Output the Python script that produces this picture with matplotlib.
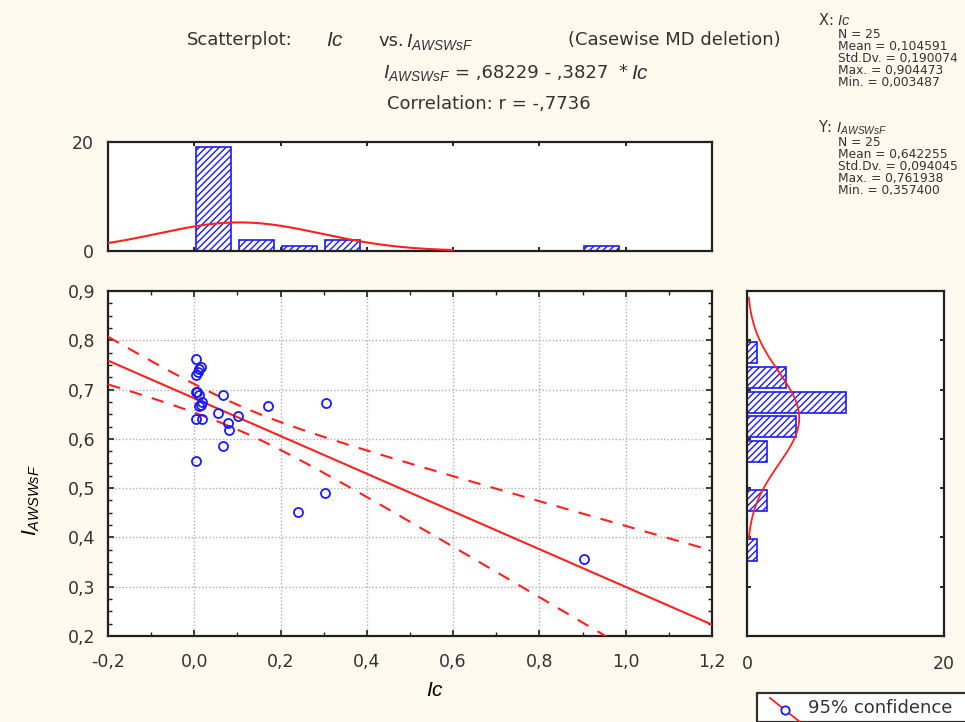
import numpy as np
import matplotlib
matplotlib.use("Agg")
import matplotlib.pyplot as plt
from matplotlib.ticker import MultipleLocator, FixedLocator, FuncFormatter
from matplotlib.patches import Rectangle
from matplotlib.lines import Line2D

plt.rcParams['font.family'] = ['DejaVu Sans']
plt.rcParams['mathtext.fontset'] = 'custom'
plt.rcParams['mathtext.it'] = 'Liberation Sans:italic'
plt.rcParams['mathtext.rm'] = 'Liberation Sans'
plt.rcParams['hatch.linewidth'] = 1.0

# data
ic = [0.004, 0.015, 0.005, 0.0035, 0.007, 0.010, 0.019, 0.004, 0.019, 0.067,
      0.056, 0.102, 0.078, 0.081, 0.066, 0.004, 0.172, 0.305, 0.302, 0.240,
      0.904, 0.008, 0.012, 0.010, 0.015]
iaw = [0.762, 0.746, 0.730, 0.695, 0.695, 0.666, 0.674, 0.640, 0.640, 0.688,
       0.652, 0.646, 0.632, 0.618, 0.586, 0.555, 0.666, 0.673, 0.490, 0.452,
       0.357, 0.735, 0.742, 0.690, 0.668]

# regression and summary stats printed on the chart
intercept, slope = 0.68229, -0.3827
r_xy = -0.7736
n_obs = 25
x_mean, x_sd, x_max, x_min = 0.104591, 0.190074, 0.904473, 0.003487
y_mean, y_sd, y_max, y_min = 0.642255, 0.094045, 0.761938, 0.357400

# histogram counts
x_bins = [0.0, 0.1, 0.2, 0.3, 0.4, 0.5, 0.6, 0.7, 0.8, 0.9]
x_counts = [19, 2, 1, 2, 0, 0, 0, 0, 0, 1]
y_bins = [0.35, 0.40, 0.45, 0.50, 0.55, 0.60, 0.65, 0.70, 0.75]
y_counts = [1, 0, 2, 0, 2, 5, 10, 4, 1]

W, H = 965, 722
bg = '#fff9ee'
blue = '#1a1aff'
red = '#ff2020'
txt = '#333333'

fig = plt.figure(figsize=(W / 100, H / 100), dpi=100, facecolor=bg)


def box(l, t, r, b):
    return [l / W, 1 - b / H, (r - l) / W, (b - t) / H]


def comma(v, pos=None):
    return ('%.1f' % v).replace('.', ',')


ax = fig.add_axes(box(108, 291, 712, 636))
axt = fig.add_axes(box(108, 142, 712, 251))
axr = fig.add_axes(box(747, 291, 944, 636))

for a in (ax, axt, axr):
    a.set_facecolor('white')
    for s in a.spines.values():
        s.set_linewidth(1.6)
        s.set_color('#202020')

# ---- main scatter
xl = np.linspace(-0.2, 1.2, 200)
yl = intercept + slope * xl
sxx = (n_obs - 1) * x_sd ** 2
s_res = y_sd * np.sqrt(1 - r_xy ** 2) * np.sqrt((n_obs - 1) / (n_obs - 2))
half = 2.069 * s_res * np.sqrt(1 / n_obs + (xl - x_mean) ** 2 / sxx)
ax.plot(xl, yl, color=red, lw=1.5, zorder=3)
ax.plot(xl, yl + half, color=red, lw=1.5, ls=(0, (6, 5)), zorder=3)
ax.plot(xl, yl - half, color=red, lw=1.5, ls=(0, (6, 5)), zorder=3)
ax.plot(ic, iaw, 'o', mfc='none', mec=blue, ms=6.5, mew=1.3, zorder=4)

ax.set_xlim(-0.2, 1.2)
ax.set_ylim(0.2, 0.9)
ax.xaxis.set_major_locator(MultipleLocator(0.2))
ax.xaxis.set_minor_locator(MultipleLocator(0.1))
ax.yaxis.set_major_locator(MultipleLocator(0.1))
ax.yaxis.set_minor_locator(MultipleLocator(0.025))
ax.xaxis.set_major_formatter(FuncFormatter(comma))
ax.yaxis.set_major_formatter(FuncFormatter(comma))
ax.grid(True, which='major', color='#b0b0b0', ls=(0, (1, 1.5)), lw=1.0)
ax.tick_params(which='both', direction='in', top=True, right=True,
               labelsize=12.5, labelcolor=txt, color='#202020')
ax.tick_params(which='major', length=4, width=1.2)
ax.tick_params(axis='x', which='major', pad=12)
ax.tick_params(axis='y', which='major', pad=9)
ax.tick_params(which='minor', length=3, width=1.0)
ax.set_xlabel(r'$Ic$', fontsize=15)
ax.set_ylabel(r'$I_{AWSWsF}$', fontsize=15)
ax.xaxis.set_label_coords((435 - 108) / 604, (636 - 680) / 345)
ax.yaxis.set_label_coords((42 - 108) / 604, (636 - 500) / 345)

# ---- top histogram
axt.bar([b + 0.003 for b in x_bins], x_counts, width=0.081, align='edge',
        facecolor='white', edgecolor=blue, hatch='/////', lw=1.2, zorder=2)
xn = np.linspace(-0.2, x_mean + 2.6 * x_sd, 200)
yn = n_obs * 0.1 / (x_sd * np.sqrt(2 * np.pi)) * np.exp(-0.5 * ((xn - x_mean) / x_sd) ** 2)
axt.plot(xn, yn, color=red, lw=1.5, zorder=3)
axt.set_xlim(-0.2, 1.2)
axt.set_ylim(0, 20)
axt.xaxis.set_major_locator(MultipleLocator(0.2))
axt.yaxis.set_major_locator(FixedLocator([0, 20]))
axt.tick_params(axis='x', direction='in', top=True, bottom=True, labelbottom=False,
                length=3, width=1.2)
axt.tick_params(axis='y', direction='in', length=2, width=1.2, labelsize=12.5,
                labelcolor=txt, pad=10)

# ---- right histogram
axr.barh([b + 0.003 for b in y_bins], y_counts, height=0.043, align='edge',
         facecolor='white', edgecolor=blue, hatch='/////', lw=1.2, zorder=2)
yv = np.linspace(y_mean - 2.6 * y_sd, y_mean + 2.6 * y_sd, 200)
xv = n_obs * 0.05 / (y_sd * np.sqrt(2 * np.pi)) * np.exp(-0.5 * ((yv - y_mean) / y_sd) ** 2)
axr.plot(xv, yv, color=red, lw=1.3, zorder=3)
axr.set_xlim(0, 20)
axr.set_ylim(0.2, 0.9)
axr.xaxis.set_major_locator(FixedLocator([0, 20]))
axr.yaxis.set_major_locator(MultipleLocator(0.1))
axr.tick_params(axis='y', direction='in', left=True, right=True, labelleft=False,
                length=3, width=1.2)
axr.tick_params(axis='x', direction='in', length=0, labelsize=12.5,
                labelcolor=txt, pad=14)


# ---- header texts
def ftext(x, y, s, **kw):
    kw.setdefault('fontsize', 13)
    kw.setdefault('color', txt)
    kw.setdefault('va', 'center')
    return fig.text(x / W, 1 - y / H, s, **kw)


ftext(187, 40, 'Scatterplot:')
ftext(326, 40, r'$Ic$', fontsize=15)
ftext(378, 41, 'vs.')
ftext(406, 42, r'$I_{AWSWsF}$', fontsize=14)
ftext(568, 40, '(Casewise MD deletion)')
ftext(383, 73, r'$I_{AWSWsF}$', fontsize=14)
ftext(455, 73, '= ,%s - ,%s' % (('%.5f' % intercept)[2:], ('%.4f' % -slope)[2:]))
ftext(618, 72, '*')
ftext(631, 73, r'$Ic$', fontsize=15)
ftext(387, 104, 'Correlation: r = -,%s' % ('%.4f' % -r_xy)[2:])


# ---- stats block
def fmt6(v):
    return ('%.6f' % v).replace('.', ',')


ftext(818, 20, r'X: $Ic$', fontsize=10.5)
xs = ['N = %d' % n_obs, 'Mean = ' + fmt6(x_mean), 'Std.Dv. = ' + fmt6(x_sd),
      'Max. = ' + fmt6(x_max), 'Min. = ' + fmt6(x_min)]
for i, s in enumerate(xs):
    ftext(838, 34 + 12.2 * i, s, fontsize=8.8)
ftext(818, 128, r'Y: $I_{AWSWsF}$', fontsize=10.5)
ys = ['N = %d' % n_obs, 'Mean = ' + fmt6(y_mean), 'Std.Dv. = ' + fmt6(y_sd),
      'Max. = ' + fmt6(y_max), 'Min. = ' + fmt6(y_min)]
for i, s in enumerate(ys):
    ftext(838, 142 + 12.2 * i, s, fontsize=8.8)

# ---- legend, cut by figure edge
fig.add_artist(Rectangle((757 / W, 0), 230 / W, 1 - 693 / H, transform=fig.transFigure,
                         facecolor='white', edgecolor='#303030', lw=1.6, clip_on=False))
fig.add_artist(Line2D([770 / W, 800 / W], [1 - 698 / H, 1 - 722 / H],
                      transform=fig.transFigure, color=red, lw=1.3))
fig.add_artist(Line2D([785 / W], [1 - 710 / H], transform=fig.transFigure, marker='o',
                      mfc='white', mec=blue, ms=6, mew=1.3))
ftext(808, 708, '95% confidence', fontsize=13)

fig.savefig('out.png', dpi=100, facecolor=bg)
